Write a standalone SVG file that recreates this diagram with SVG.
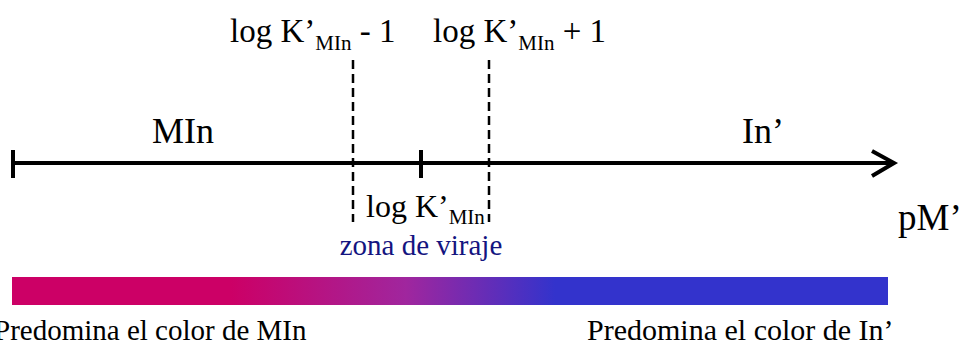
<svg xmlns="http://www.w3.org/2000/svg" width="968" height="350" viewBox="0 0 968 350">
<style>
  .t { font-family: "Liberation Serif", "Times New Roman", serif; fill: #000; }
  .ax { stroke: #000; stroke-width: 4; fill: none; }
  .dash { stroke: #000; stroke-width: 2.5; stroke-dasharray: 9 5; fill: none; }
</style>
<defs>
  <linearGradient id="grad" x1="0" y1="0" x2="1" y2="0">
    <stop offset="0" stop-color="#CC0066"/>
    <stop offset="0.25" stop-color="#CC0066"/>
    <stop offset="0.45" stop-color="#A0269E"/>
    <stop offset="0.62" stop-color="#3333CC"/>
    <stop offset="1" stop-color="#3333CC"/>
  </linearGradient>
</defs>
<rect width="968" height="350" fill="#fff"/>
<g id="connectors">
  <line class="ax" x1="13" y1="163" x2="894" y2="163"/>
  <polyline class="ax" points="872,151 894,163 872,176" stroke-linejoin="miter"/>
  <line class="ax" x1="13" y1="150" x2="13" y2="178"/>
  <line class="ax" x1="421" y1="150" x2="421" y2="178"/>
  <line class="dash" x1="353" y1="60" x2="353" y2="222"/>
  <line class="dash" x1="489" y1="60" x2="489" y2="222"/>
</g>
<g id="label-low">
  <text class="t" x="230" y="42" font-size="33">log K’<tspan font-size="21" dy="8">MIn</tspan><tspan dy="-8"> - 1</tspan></text>
</g>
<g id="label-high">
  <text class="t" x="433" y="42" font-size="33">log K’<tspan font-size="21" dy="8">MIn</tspan><tspan dy="-8"> + 1</tspan></text>
</g>
<g id="label-MIn">
  <text class="t" x="152" y="143" font-size="36">MIn</text>
</g>
<g id="label-In">
  <text class="t" x="742" y="143" font-size="36">In’</text>
</g>
<g id="label-pM">
  <text class="t" x="898" y="230" font-size="37">pM’</text>
</g>
<g id="label-logK">
  <text class="t" x="366" y="217" font-size="32">log K’<tspan font-size="21" dy="7">MIn</tspan></text>
</g>
<g id="label-zona">
  <text class="t" x="421" y="255" font-size="29" text-anchor="middle" style="fill:#141480">zona de viraje</text>
</g>
<g id="color-bar">
  <rect x="12" y="277" width="876" height="28" fill="url(#grad)"/>
</g>
<g id="label-pred-MIn">
  <text class="t" x="-6" y="340" font-size="29">Predomina el color de MIn</text>
</g>
<g id="label-pred-In">
  <text class="t" x="587" y="340" font-size="30">Predomina el color de In’</text>
</g>
</svg>
